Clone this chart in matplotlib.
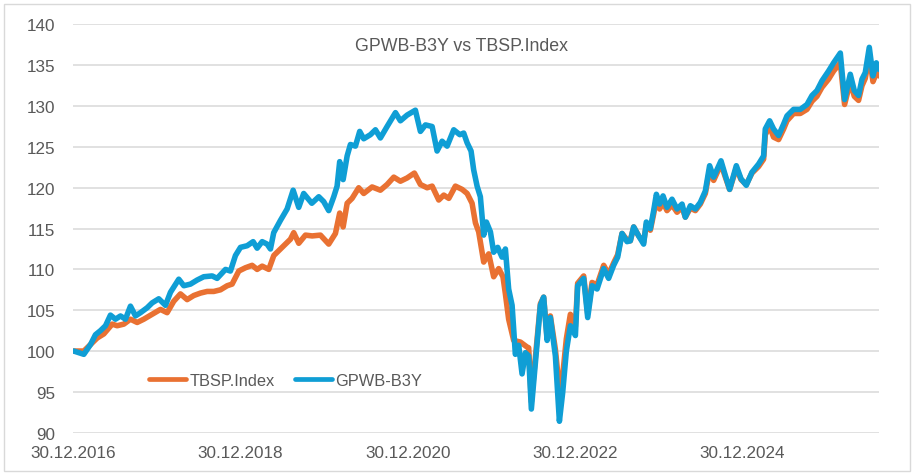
import numpy as np
import pandas as pd
import matplotlib
matplotlib.use("Agg")
import matplotlib.pyplot as plt
import matplotlib.dates as mdates
from matplotlib.patches import Rectangle

# values (dates as decimal years)
gpwb_years = [
    2017.007, 2017.127, 2017.207, 2017.266, 2017.326, 2017.386, 2017.445, 2017.505,
    2017.565, 2017.624, 2017.684, 2017.744, 2017.804, 2017.883, 2017.943, 2018.022,
    2018.102, 2018.162, 2018.261, 2018.321, 2018.401, 2018.481, 2018.559, 2018.660,
    2018.719, 2018.819, 2018.878, 2018.938, 2018.998, 2019.078, 2019.149, 2019.197,
    2019.257, 2019.316, 2019.356, 2019.395, 2019.475, 2019.555, 2019.627, 2019.694,
    2019.753, 2019.850, 2019.933, 2019.992, 2020.052, 2020.112, 2020.152, 2020.183,
    2020.224, 2020.272, 2020.311, 2020.371, 2020.422, 2020.470, 2020.550, 2020.610,
    2020.669, 2020.749, 2020.849, 2020.908, 2020.988, 2021.087, 2021.147, 2021.207,
    2021.287, 2021.346, 2021.406, 2021.466, 2021.545, 2021.617, 2021.664, 2021.705,
    2021.752, 2021.783, 2021.824, 2021.863, 2021.903, 2021.935, 2021.983, 2022.022,
    2022.070, 2022.122, 2022.162, 2022.201, 2022.242, 2022.281, 2022.321, 2022.361,
    2022.401, 2022.440, 2022.472, 2022.520, 2022.580, 2022.619, 2022.660, 2022.699,
    2022.759, 2022.807, 2022.846, 2022.890, 2022.938, 2022.998, 2023.025, 2023.097,
    2023.145, 2023.197, 2023.257, 2023.336, 2023.395, 2023.455, 2023.503, 2023.555,
    2023.615, 2023.654, 2023.694, 2023.754, 2023.813, 2023.845, 2023.893, 2023.933,
    2023.965, 2024.004, 2024.045, 2024.092, 2024.152, 2024.212, 2024.272, 2024.311,
    2024.371, 2024.431, 2024.490, 2024.550, 2024.601, 2024.649, 2024.737, 2024.789,
    2024.840, 2024.920, 2024.976, 2025.039, 2025.107, 2025.186, 2025.246, 2025.266,
    2025.318, 2025.365, 2025.425, 2025.485, 2025.525, 2025.604, 2025.684, 2025.764,
    2025.824, 2025.883, 2025.943, 2026.022, 2026.082, 2026.162, 2026.213, 2026.281,
    2026.329, 2026.380, 2026.421, 2026.460, 2026.508, 2026.552, 2026.592, 2026.624,
]
gpwb_values = [
    100.0, 99.6, 100.8, 102.0, 102.5, 103.1, 104.4, 103.9,
    104.3, 103.9, 105.5, 104.3, 104.7, 105.3, 105.9, 106.4,
    105.6, 107.2, 108.8, 108.0, 108.2, 108.7, 109.1, 109.2,
    108.9, 110.0, 109.8, 111.7, 112.7, 112.9, 113.4, 112.6,
    113.4, 113.1, 112.5, 114.5, 116.0, 117.4, 119.7, 117.6,
    119.3, 118.1, 118.9, 118.3, 117.2, 118.9, 120.2, 123.2,
    121.0, 123.9, 125.3, 125.1, 126.9, 126.0, 126.5, 127.1,
    126.1, 127.5, 129.2, 128.2, 128.9, 129.5, 126.9, 127.7,
    127.5, 124.5, 125.7, 125.1, 127.1, 126.5, 126.7, 125.5,
    124.5, 122.2, 120.2, 118.9, 114.2, 115.8, 114.6, 112.1,
    112.7, 111.5, 112.5, 107.6, 105.6, 99.6, 100.7, 97.2,
    99.8, 99.4, 92.9, 98.6, 105.6, 106.6, 101.3, 104.1,
    99.4, 91.4, 94.9, 100.0, 103.1, 101.9, 108.0, 108.9,
    104.1, 108.0, 107.6, 110.1, 108.9, 110.5, 111.5, 114.4,
    113.4, 113.5, 115.2, 114.1, 113.1, 115.8, 115.0, 117.2,
    119.2, 118.0, 119.0, 117.6, 118.6, 117.4, 118.0, 116.4,
    117.8, 117.4, 118.2, 119.6, 122.7, 121.3, 123.3, 121.5,
    119.8, 122.7, 121.1, 120.3, 121.9, 122.9, 123.9, 127.2,
    128.2, 127.2, 126.4, 127.8, 128.8, 129.6, 129.6, 130.2,
    131.3, 131.9, 133.1, 134.3, 135.3, 136.5, 130.8, 133.9,
    131.9, 131.3, 133.3, 134.1, 137.2, 133.7, 135.3, 134.5,
]

tbsp_years = [
    2017.007, 2017.127, 2017.207, 2017.287, 2017.366, 2017.466, 2017.525, 2017.605,
    2017.684, 2017.764, 2017.843, 2017.943, 2018.042, 2018.122, 2018.201, 2018.281,
    2018.361, 2018.440, 2018.520, 2018.600, 2018.679, 2018.759, 2018.839, 2018.898,
    2018.978, 2019.057, 2019.137, 2019.197, 2019.257, 2019.336, 2019.396, 2019.495,
    2019.595, 2019.634, 2019.694, 2019.774, 2019.854, 2019.953, 2020.052, 2020.132,
    2020.183, 2020.224, 2020.272, 2020.331, 2020.410, 2020.470, 2020.570, 2020.669,
    2020.749, 2020.829, 2020.908, 2020.988, 2021.075, 2021.147, 2021.227, 2021.287,
    2021.366, 2021.426, 2021.486, 2021.565, 2021.645, 2021.705, 2021.764, 2021.804,
    2021.843, 2021.903, 2021.963, 2022.022, 2022.082, 2022.133, 2022.162, 2022.201,
    2022.261, 2022.341, 2022.420, 2022.440, 2022.472, 2022.520, 2022.580, 2022.619,
    2022.660, 2022.699, 2022.759, 2022.807, 2022.846, 2022.890, 2022.938, 2022.998,
    2023.025, 2023.097, 2023.145, 2023.197, 2023.257, 2023.336, 2023.395, 2023.455,
    2023.503, 2023.555, 2023.615, 2023.654, 2023.694, 2023.754, 2023.813, 2023.845,
    2023.893, 2023.933, 2023.965, 2024.004, 2024.045, 2024.092, 2024.152, 2024.212,
    2024.272, 2024.311, 2024.371, 2024.431, 2024.490, 2024.550, 2024.601, 2024.649,
    2024.737, 2024.789, 2024.840, 2024.920, 2024.976, 2025.039, 2025.107, 2025.186,
    2025.246, 2025.266, 2025.318, 2025.365, 2025.425, 2025.485, 2025.525, 2025.604,
    2025.684, 2025.764, 2025.824, 2025.883, 2025.943, 2026.022, 2026.082, 2026.162,
    2026.213, 2026.281, 2026.329, 2026.380, 2026.421, 2026.460, 2026.508, 2026.552,
    2026.592, 2026.624,
]
tbsp_values = [
    100.0, 100.0, 100.8, 101.6, 102.1, 103.3, 103.1, 103.3,
    103.9, 103.5, 103.9, 104.5, 105.1, 104.7, 106.1, 107.0,
    106.3, 106.8, 107.1, 107.3, 107.3, 107.5, 108.0, 108.2,
    109.8, 110.2, 110.5, 110.0, 110.4, 110.0, 111.7, 112.7,
    113.7, 114.5, 113.2, 114.2, 114.1, 114.2, 113.1, 114.4,
    116.9, 115.2, 118.1, 118.7, 120.0, 119.3, 120.1, 119.7,
    120.4, 121.3, 120.8, 121.2, 121.8, 120.4, 120.0, 120.2,
    118.5, 119.1, 118.7, 120.2, 119.8, 119.3, 118.1, 115.7,
    114.6, 110.9, 111.9, 109.1, 110.1, 109.1, 107.0, 103.9,
    101.3, 101.1, 100.5, 100.4, 93.8, 99.2, 105.8, 106.6,
    101.6, 104.3, 100.2, 95.3, 97.0, 101.5, 104.5, 103.0,
    108.3, 109.2, 104.6, 108.4, 108.1, 110.5, 109.4, 110.8,
    111.8, 114.4, 113.6, 113.5, 115.2, 114.1, 113.3, 115.5,
    114.8, 116.8, 118.6, 117.4, 118.2, 117.2, 117.9, 117.0,
    117.6, 116.4, 117.5, 117.2, 118.0, 119.3, 122.2, 120.9,
    122.9, 121.3, 119.8, 122.4, 121.0, 120.4, 121.8, 122.6,
    123.5, 126.5, 127.5, 126.2, 125.9, 127.2, 128.2, 129.1,
    129.1, 129.6, 130.6, 131.2, 132.3, 133.3, 134.3, 135.3,
    130.2, 133.0, 131.2, 130.7, 132.5, 133.4, 136.2, 133.0,
    134.0, 133.7,
]

tick_dates = ["2016-12-30", "2018-12-30", "2020-12-30", "2022-12-30", "2024-12-30"]
y_ticks = [90, 95, 100, 105, 110, 115, 120, 125, 130, 135, 140]


def to_dates(years):
    years = np.asarray(years)
    return pd.Timestamp("2017-01-01") + pd.to_timedelta((years - 2017) * 365.25, unit="D")


gpwb_dates = to_dates(gpwb_years)
tbsp_dates = to_dates(tbsp_years)

plt.rcParams["font.family"] = ["Liberation Sans", "DejaVu Sans"]
text_color = "#595959"
orange = "#E97132"
blue = "#0F9ED5"

fig = plt.figure(figsize=(9.16, 4.77), dpi=100)
ax = fig.add_axes([0.0794, 0.0908, 0.8802, 0.8558])

ax.plot(tbsp_dates, tbsp_values, color=orange, lw=4.0,
        solid_capstyle="round", solid_joinstyle="round", label="TBSP.Index")
ax.plot(gpwb_dates, gpwb_values, color=blue, lw=4.0,
        solid_capstyle="round", solid_joinstyle="round", label="GPWB-B3Y")

ax.set_ylim(90, 140)
ax.set_yticks(y_ticks)
ax.set_xlim(pd.Timestamp("2016-12-30"), gpwb_dates[-1])
ax.set_xticks(pd.to_datetime(tick_dates))
ax.xaxis.set_major_formatter(mdates.DateFormatter("%d.%m.%Y"))

ax.grid(axis="y", color="#D9D9D9", lw=1.1)
ax.set_axisbelow(True)
for s in ax.spines.values():
    s.set_visible(False)
ax.tick_params(axis="y", length=0, pad=12.5, labelsize=12.3, labelcolor=text_color)
ax.tick_params(axis="x", length=0, pad=9, labelsize=12.3, labelcolor=text_color)

fig.text(461.7 / 916, 1 - 51 / 477, "GPWB-B3Y vs TBSP.Index", ha="center",
         va="baseline", fontsize=12.8, color=text_color)

leg = fig.legend(loc="center left", bbox_to_anchor=(149 / 916, 1 - 381.7 / 477),
                 ncol=2, frameon=False, fontsize=11.8, labelcolor=text_color,
                 handlelength=2.25, handletextpad=0.2, columnspacing=1.25,
                 borderpad=0, borderaxespad=0)
for h in leg.legend_handles:
    h.set_linewidth(3.4)

fig.patches.append(Rectangle((4 / 916, 1 - 471.7 / 477), 906 / 916, 467 / 477,
                             transform=fig.transFigure, fill=False,
                             edgecolor="#D9D9D9", lw=1))

fig.savefig("out.png", dpi=100)
